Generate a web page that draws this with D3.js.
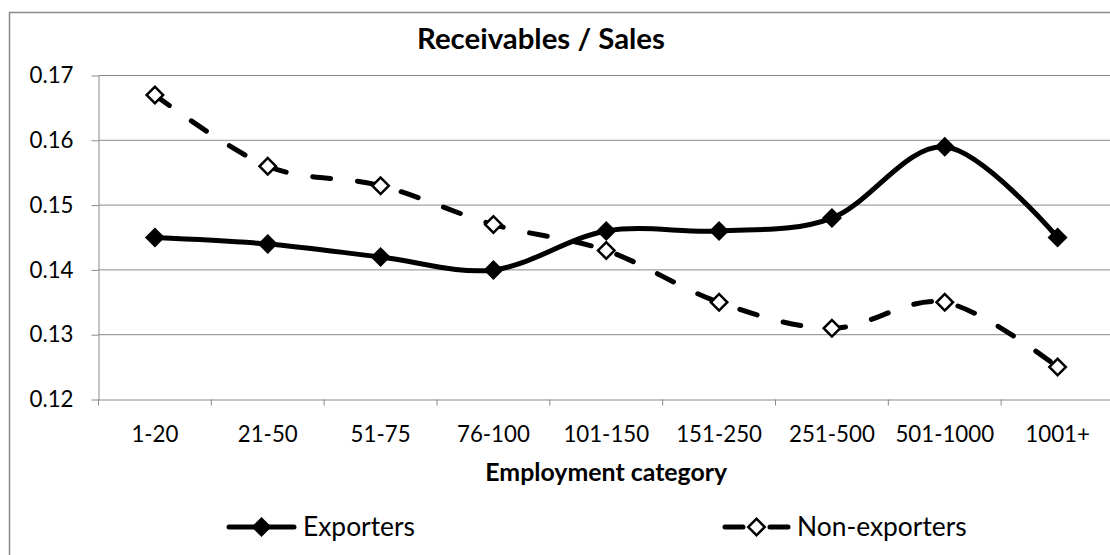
<!DOCTYPE html>
<html>
<head>
<meta charset="utf-8">
<script src="https://cdn.jsdelivr.net/npm/d3@7"></script>
<style>
  html, body { margin: 0; padding: 0; background: #ffffff; }
  svg { display: block; font-family: Lato, "Open Sans", "Liberation Sans", sans-serif; }
</style>
</head>
<body>
<svg id="chart" width="1110" height="555"></svg>
<script>
// ---- data ----
const categories = ["1-20", "21-50", "51-75", "76-100", "101-150", "151-250", "251-500", "501-1000", "1001+"];
const exporters = [0.145, 0.144, 0.142, 0.140, 0.146, 0.146, 0.148, 0.159, 0.145];
const nonExporters = [0.167, 0.156, 0.153, 0.147, 0.143, 0.135, 0.131, 0.135, 0.125];
const yTicks = [0.12, 0.13, 0.14, 0.15, 0.16, 0.17];
const seriesNames = ["Exporters", "Non-exporters"];
const chartTitle = "Receivables / Sales";
const xAxisTitle = "Employment category";

// ---- layout ----
const W = 1110, H = 555;
const plot = { left: 98.5, right: 1114, top: 75.5, bottom: 399.5 };
const gridColor = "#8a8a8a";

const svg = d3.select("#chart");

// scale a text element's font so its rendered width hits a target
function fitWidth(sel, target) {
  const base = 20;
  sel.style("font-size", base + "px");
  const w = sel.node().getComputedTextLength();
  const size = base * target / w;
  sel.style("font-size", size + "px");
  return size;
}

// chart border (runs past the right and bottom edges)
svg.append("rect")
  .attr("x", 9.5).attr("y", 12.5)
  .attr("width", 1300).attr("height", 700)
  .attr("fill", "#ffffff")
  .attr("stroke", gridColor)
  .attr("stroke-width", 1.5);

const x = d3.scaleBand().domain(categories).range([plot.left, plot.right]).paddingInner(0).paddingOuter(0);
const y = d3.scaleLinear().domain([d3.min(yTicks), d3.max(yTicks)]).range([plot.bottom, plot.top]);
const cx = c => x(c) + x.bandwidth() / 2;

// horizontal gridlines
svg.append("g").selectAll("line")
  .data(yTicks.slice(1))
  .join("line")
  .attr("x1", plot.left).attr("x2", plot.right)
  .attr("y1", d => y(d)).attr("y2", d => y(d))
  .attr("stroke", gridColor).attr("stroke-width", 1);

// sample label used to size tick text
const probe = svg.append("text").text("21-50");
const tickSize = fitWidth(probe, 60);
probe.remove();

// y axis
const yAxisG = svg.append("g")
  .attr("transform", `translate(${plot.left},0)`)
  .call(d3.axisLeft(y).tickValues(yTicks).tickSize(7).tickSizeOuter(0).tickPadding(18).tickFormat(d3.format(".2f")));
yAxisG.select(".domain").attr("stroke", gridColor);
yAxisG.selectAll(".tick line").attr("stroke", gridColor);
yAxisG.selectAll(".tick text")
  .attr("fill", "#000")
  .style("font-size", tickSize + "px")
  .style("font-family", "Lato, sans-serif");

// x axis: labels centred on categories, tick marks on category boundaries
const xAxisG = svg.append("g")
  .attr("transform", `translate(0,${plot.bottom})`)
  .call(d3.axisBottom(x).tickSize(0).tickSizeOuter(0));
xAxisG.select(".domain").attr("stroke", gridColor);
xAxisG.selectAll(".tick text")
  .attr("fill", "#000")
  .attr("y", 42)
  .attr("dy", null)
  .style("font-size", tickSize + "px")
  .style("font-family", "Lato, sans-serif");

const bounds = categories.map(c => x(c)).concat([x.range()[1]]);
svg.append("g").selectAll("line")
  .data(bounds)
  .join("line")
  .attr("x1", d => d).attr("x2", d => d)
  .attr("y1", plot.bottom).attr("y2", plot.bottom + 6)
  .attr("stroke", gridColor).attr("stroke-width", 1);

// title
const title = svg.append("text")
  .attr("x", 541).attr("y", 48.5)
  .attr("text-anchor", "middle")
  .attr("font-weight", "bold")
  .attr("fill", "#000")
  .text(chartTitle);
fitWidth(title, 248);

// x axis title
const xt = svg.append("text")
  .attr("x", (plot.left + plot.right) / 2).attr("y", 480.5)
  .attr("text-anchor", "middle")
  .attr("font-weight", "bold")
  .attr("fill", "#000")
  .text(xAxisTitle);
fitWidth(xt, 242);

// ---- series ----
const line = d3.line()
  .x((d, i) => cx(categories[i]))
  .y(d => y(d))
  .curve(d3.curveCatmullRom.alpha(0));

const diamond = size => d3.symbol(d3.symbolSquare, size);

const series = [
  { name: seriesNames[0], values: exporters, dash: null, fill: "#000", mark: 200, mstroke: 0 },
  { name: seriesNames[1], values: nonExporters, dash: "18 27", fill: "#fff", mark: 136, mstroke: 2.5 }
];

series.forEach(s => {
  const g = svg.append("g");
  g.append("path")
    .datum(s.values)
    .attr("d", line)
    .attr("fill", "none")
    .attr("stroke", "#000")
    .attr("stroke-width", 5)
    .attr("stroke-linecap", "round")
    .attr("stroke-linejoin", "round")
    .attr("stroke-dasharray", s.dash);
  g.selectAll("path.marker")
    .data(s.values)
    .join("path")
    .attr("class", "marker")
    .attr("d", diamond(s.mark))
    .attr("transform", (d, i) => `translate(${cx(categories[i])},${y(d)}) rotate(45)`)
    .attr("fill", s.fill)
    .attr("stroke", "#000")
    .attr("stroke-width", s.mstroke);
});

// ---- legend ----
const legendY = 527;
const legendItems = [
  { x0: 229, x1: 294, textX: 303 },
  { x0: 725, x1: 788, textX: 797 }
];
let legendSize = null;
series.forEach((s, k) => {
  const it = legendItems[k];
  const g = svg.append("g");
  g.append("line")
    .attr("x1", it.x0).attr("x2", it.x1)
    .attr("y1", legendY).attr("y2", legendY)
    .attr("stroke", "#000")
    .attr("stroke-width", 5)
    .attr("stroke-linecap", "round")
    .attr("stroke-dasharray", s.dash);
  g.append("path")
    .attr("d", diamond(s.mark))
    .attr("transform", `translate(${(it.x0 + it.x1) / 2},${legendY}) rotate(45)`)
    .attr("fill", s.fill)
    .attr("stroke", "#000")
    .attr("stroke-width", s.mstroke);
  const t = g.append("text")
    .attr("x", it.textX).attr("y", legendY + 9)
    .attr("fill", "#000")
    .text(s.name);
  if (legendSize === null) legendSize = fitWidth(t, 112);
  else t.style("font-size", legendSize + "px");
});
</script>
</body>
</html>
